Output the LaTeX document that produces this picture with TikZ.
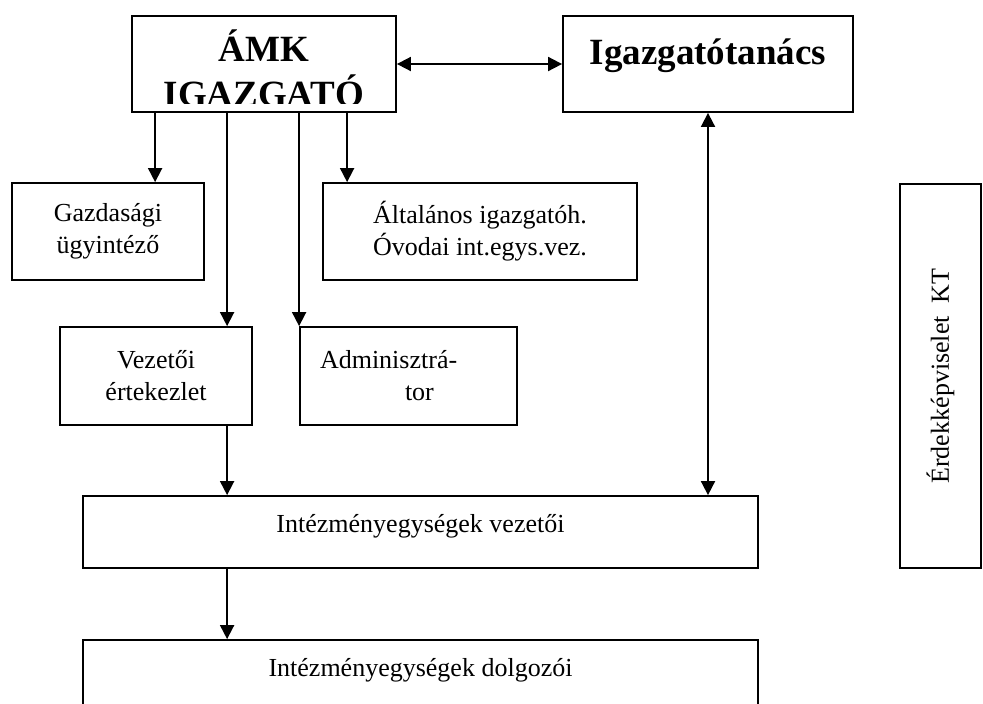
\documentclass[tikz,border=0pt]{standalone}
\usepackage{fontspec}
\setmainfont{Liberation Serif}
\usetikzlibrary{arrows.meta,calc}
\tikzset{
  box/.style={draw,line width=0.9pt,align=center,inner sep=2pt,
    font=\fontsize{13}{16}\selectfont},
  title/.style={font=\fontsize{18.5}{22.5}\selectfont\bfseries,align=center},
  wide/.style={box,minimum width=337.5pt,minimum height=36pt,
    text height=10pt,text depth=10pt},
  flow/.style={->,line width=0.9pt},
  twoway/.style={<->,line width=0.9pt}
}
\begin{document}
\begin{tikzpicture}[x=0.5pt,y=-0.5pt,>={Triangle[length=7pt,width=7pt]}]
  \clip (0,0) rectangle (983,703);
  % top row
  \node[box,minimum width=132pt,minimum height=48pt] (amk) at (264,64) {};
  \begin{scope}
    \clip (amk.north west) rectangle ($(amk.south east)+(0,-9)$);
    \node[title,inner sep=0pt] (amktxt) at (264,68.5) {ÁMK\\IGAZGATÓ};
  \end{scope}
  \node[box,title,minimum width=145pt,minimum height=48pt,
    text height=12pt,text depth=12pt] (tanacs) at (708,64) {Igazgatótanács};
  % second and third row
  \node[box,minimum width=96pt,minimum height=48.5pt] (gazd) at (108,231.5) {Gazdasági\\ügyintéző};
  \node[box,minimum width=157pt,minimum height=48.5pt] (altal) at (480,231.5) {Általános igazgatóh.\\Óvodai int.egys.vez.};
  \node[box,minimum width=96pt,minimum height=49pt] (vezert) at (156,376) {Vezetői\\értekezlet};
  \node[box,minimum width=108.5pt,minimum height=49pt,text width=88.5pt,align=left] (admin) at (408.5,376)
       {Adminisztrá-\\\hspace*{42.5pt}tor};
  % units
  \node[wide] (intvez) at (420.5,532) {Intézményegységek vezetői};
  \node[wide] (intdolg) at (420.5,676) {Intézményegységek dolgozói};
  \node[box,rotate=90,minimum width=192pt,minimum height=40.5pt] (erdek) at (940.5,376) {Érdekképviselet~~KT};
  % connectors
  \draw[twoway] (amk) -- (tanacs);
  \foreach \dx/\dst in {24/gazd,96/vezert,168/admin,216/altal}
    \draw[flow] ($(amk.south west)+(\dx,0)$) coordinate (top) -- (top |- \dst.north);
  \draw[flow] ($(vezert.south west)+(168,0)$) coordinate (v) -- (v |- intvez.north);
  \draw[flow] ($(intvez.south west)+(145,0)$) coordinate (w) -- (w |- intdolg.north);
  \draw[twoway] (tanacs.south) -- (tanacs.south |- intvez.north);
\end{tikzpicture}
\end{document}
